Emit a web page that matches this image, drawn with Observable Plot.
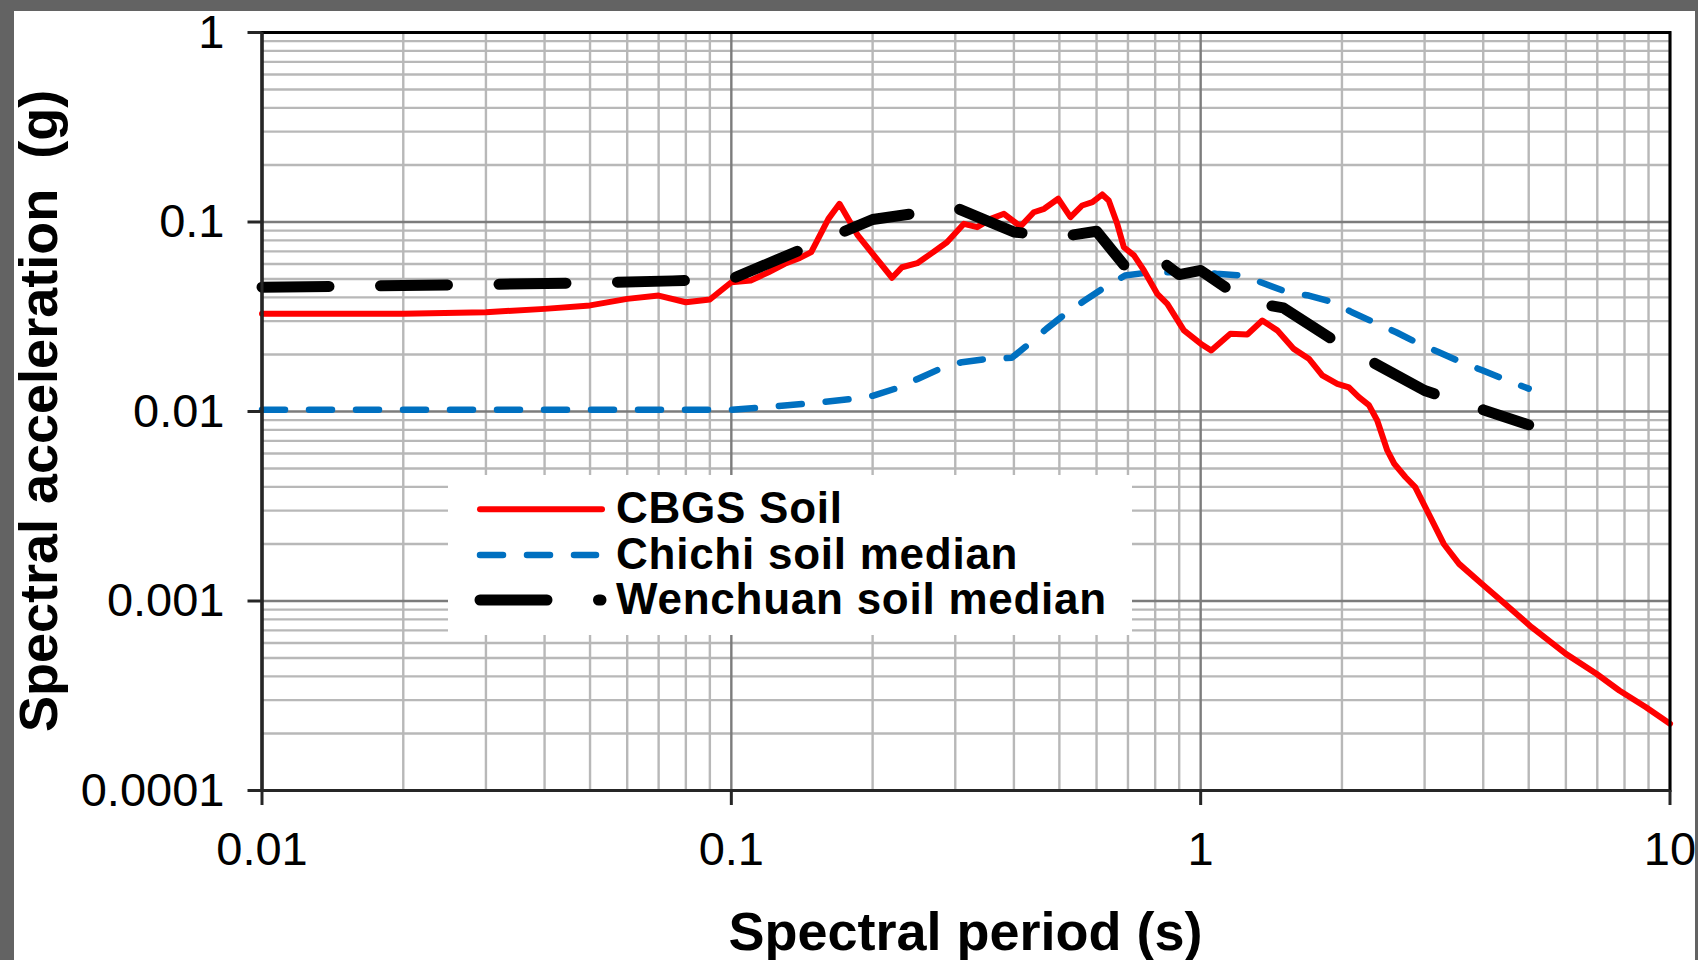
<!DOCTYPE html>
<html><head><meta charset="utf-8">
<script src="https://cdn.jsdelivr.net/npm/d3@7"></script>
<script src="https://cdn.jsdelivr.net/npm/@observablehq/plot@0.6"></script>
<style>
html,body{margin:0;padding:0;background:#636363;width:1698px;height:960px;overflow:hidden;}
#paper{position:absolute;left:14px;top:11px;width:1681px;height:949px;background:#fff;}
#chart{position:absolute;left:0;top:0;width:1698px;height:960px;}
#chart svg{display:block;}
</style></head><body><div id="paper"></div><div id="chart"></div>
<script>
// ---- data ----
const seriesNames = ["CBGS Soil", "Chichi soil median", "Wenchuan soil median"];

const cbgsPeriod = [0.01,0.02,0.03,0.04,0.05,0.06,0.07,0.08,0.09,0.1,
  0.11,0.12,0.13,0.14,0.148,0.161,0.17,0.186,
  0.22,0.231,0.249,0.266,0.288,0.313,0.334,0.357,0.381,0.413,
  0.441,0.464,0.497,0.528,0.559,0.588,0.617,0.637,0.664,0.686,
  0.721,0.757,0.808,0.849,0.921,1.0,
  1.053,1.157,1.257,1.353,1.456,1.579,1.700,1.816,1.955,2.069,
  2.173,2.283,2.378,2.498,2.585,2.733,2.865,3.059,3.296,3.553,
  3.976,4.448,5.071,6.001,6.970,7.798,8.889,10];
const cbgsSA = [0.0328,0.0328,0.0334,0.0348,0.0363,0.0393,0.0409,0.0377,0.0390,0.0481,
  0.0491,0.0543,0.0602,0.0647,0.0693,0.1039,0.1247,0.0849,
  0.0508,0.0577,0.0606,0.0679,0.0782,0.0978,0.0939,0.1039,0.1105,0.0947,
  0.1126,0.1174,0.1326,0.1060,0.1222,0.1272,0.1397,0.1299,0.0978,0.0736,
  0.0666,0.0555,0.0418,0.0370,0.0268,0.0228,
  0.0210,0.0257,0.0255,0.0302,0.0268,0.0214,0.0190,0.0155,0.0140,0.0134,
  0.0119,0.0108,0.00897,0.00623,0.00530,0.00450,0.00399,0.00289,0.00200,0.00157,
  0.00123,0.000966,0.000727,0.000526,0.000413,0.000337,0.000275,0.000225];

const chichiPeriod = [0.01,0.02,0.03,0.05,0.075,0.1,
  0.116,0.145,0.183,0.2,0.228,0.25,0.283,0.31,0.354,0.396,
  0.435,0.469,0.52,0.566,0.633,0.69,0.78,1.0,
  1.08,1.23,1.37,1.53,1.70,1.92,2.10,2.38,2.61,2.92,
  3.21,3.59,3.98,4.49,5.0];
const chichiSA = [0.0102,0.0102,0.0102,0.0102,0.0102,0.0102,
  0.0105,0.0110,0.0117,0.0121,0.0134,0.0149,0.0171,0.0182,0.0190,0.0192,
  0.0232,0.0273,0.0334,0.0385,0.0462,0.0522,0.0543,0.0543,
  0.0533,0.0522,0.0472,0.0426,0.0409,0.0377,0.0334,0.0290,0.0262,0.0228,
  0.0206,0.0182,0.0165,0.0146,0.0132];

const wenchuanPeriod = [0.01,0.02,0.03,0.05,0.075,0.1,0.2,0.3,0.4,0.5,0.6,0.7,0.8,0.9,1.0,1.25,1.5,2.0,3.0,4.0,5.0];
const wenchuanSA = [0.0453,0.0462,0.0468,0.0478,0.0489,0.0500,0.1031,0.1193,0.0886,0.0833,0.0894,0.0558,0.0657,0.0528,0.0555,0.0381,0.0352,0.0223,0.0129,0.0102,0.0085];

const xTicks = [0.01, 0.1, 1, 10];
const xTickLabels = ["0.01", "0.1", "1", "10"];
const yTicks = [0.0001, 0.001, 0.01, 0.1, 1];
const yTickLabels = ["0.0001", "0.001", "0.01", "0.1", "1"];
const xTitle = "Spectral period (s)";
const yTitle = "Spectral acceleration\u00a0 (g)";

const colors = ["#FF0000", "#0070C0", "#000000"];

// ---- helpers ----
const minorOf = (dec) => dec.slice(0, -1).flatMap(d => [2,3,4,5,6,7,8,9].map(k => +(k * d).toPrecision(3)));
const xMinor = minorOf(xTicks);
const yMinor = minorOf(yTicks);
const xLab = new Map(xTicks.map((d, i) => [d, xTickLabels[i]]));
const yLab = new Map(yTicks.map((d, i) => [d, yTickLabels[i]]));

const FONT = "'Liberation Sans', Arial, Helvetica, sans-serif";
const W = 1698, H = 960;
const mL = 261.5, mR = 28.5, mT = 32, mB = 170;

const styles = [
  {stroke: colors[0], strokeWidth: 6},
  {stroke: colors[1], strokeWidth: 6.5, strokeDasharray: "23,24"},
  {stroke: colors[2], strokeWidth: 11, strokeDasharray: "67,51.5"}
];

const lineOf = (xs, ys, st) => Plot.line(xs, {x: xs, y: ys, ...st, strokeLinecap: "round", strokeLinejoin: "round"});

const chart = Plot.plot({
  width: W, height: H,
  marginLeft: mL, marginRight: mR, marginTop: mT, marginBottom: mB,
  x: {type: "log", domain: [0.01, 10]},
  y: {type: "log", domain: [0.0001, 1]},
  style: {fontFamily: FONT, background: "transparent", color: "black", overflow: "visible"},
  marks: [
    Plot.gridX(xMinor, {stroke: "#b8b8b8", strokeOpacity: 1, strokeWidth: 2.4}),
    Plot.gridY(yMinor, {stroke: "#b8b8b8", strokeOpacity: 1, strokeWidth: 2.4}),
    Plot.gridX(xTicks, {stroke: "#7c7c7c", strokeOpacity: 1, strokeWidth: 2.4}),
    Plot.gridY(yTicks, {stroke: "#7c7c7c", strokeOpacity: 1, strokeWidth: 2.4}),
    lineOf(chichiPeriod, chichiSA, styles[1]),
    lineOf(cbgsPeriod, cbgsSA, styles[0]),
    lineOf(wenchuanPeriod, wenchuanSA, styles[2]),
    Plot.frame({stroke: "#000", strokeWidth: 3}),
    Plot.ruleX([0.01], {stroke: "#262626", strokeWidth: 3}),
    Plot.ruleY([0.0001], {stroke: "#262626", strokeWidth: 3}),
    Plot.axisX(xTicks, {tickSize: 15, tickPadding: 26, fontSize: 47, tickFormat: d => xLab.get(d),
      stroke: "#262626", strokeWidth: 3, fill: "#000", label: null}),
    Plot.axisY(yTicks, {tickSize: 14, tickPadding: 23.5, fontSize: 47, tickFormat: d => yLab.get(d),
      stroke: "#262626", strokeWidth: 3, fill: "#000", label: null})
  ]
});

document.getElementById("chart").appendChild(chart);

// ---- titles ----
const svg = d3.select(chart);
const sx = chart.scale("x"), sy = chart.scale("y");
const cx = (sx.apply(0.01) + sx.apply(10)) / 2;
const cy = (sy.apply(0.0001) + sy.apply(1)) / 2;

svg.append("text")
  .attr("x", cx).attr("y", 950)
  .attr("text-anchor", "middle")
  .attr("font-family", FONT).attr("font-size", 54).attr("font-weight", "bold")
  .attr("fill", "#000")
  .text(xTitle);

svg.append("text")
  .attr("transform", `translate(57,${cy}) rotate(-90)`)
  .attr("text-anchor", "middle")
  .attr("font-family", FONT).attr("font-size", 54).attr("font-weight", "bold")
  .attr("fill", "#000")
  .text(yTitle);

// ---- legend ----
const lg = svg.append("g").attr("text-anchor", "start");
lg.append("rect").attr("x", 448).attr("y", 475).attr("width", 684).attr("height", 160).attr("fill", "#fff");
const rowsY = [509.3, 555, 600];
const baseY = [523.3, 569, 614];
const ends = [602, 596, 601];
seriesNames.forEach((name, i) => {
  const st = styles[i];
  lg.append("line")
    .attr("x1", 480).attr("x2", ends[i])
    .attr("y1", rowsY[i]).attr("y2", rowsY[i])
    .attr("stroke", st.stroke).attr("stroke-width", st.strokeWidth)
    .attr("stroke-dasharray", st.strokeDasharray || null)
    .attr("stroke-linecap", "round");
  lg.append("text")
    .attr("x", 616).attr("y", baseY[i])
    .attr("text-anchor", "start")
    .attr("font-family", FONT).attr("font-size", 44).attr("font-weight", "bold")
    .attr("letter-spacing", "0.75px")
    .attr("fill", "#000")
    .text(name);
});
</script>
</body></html>
